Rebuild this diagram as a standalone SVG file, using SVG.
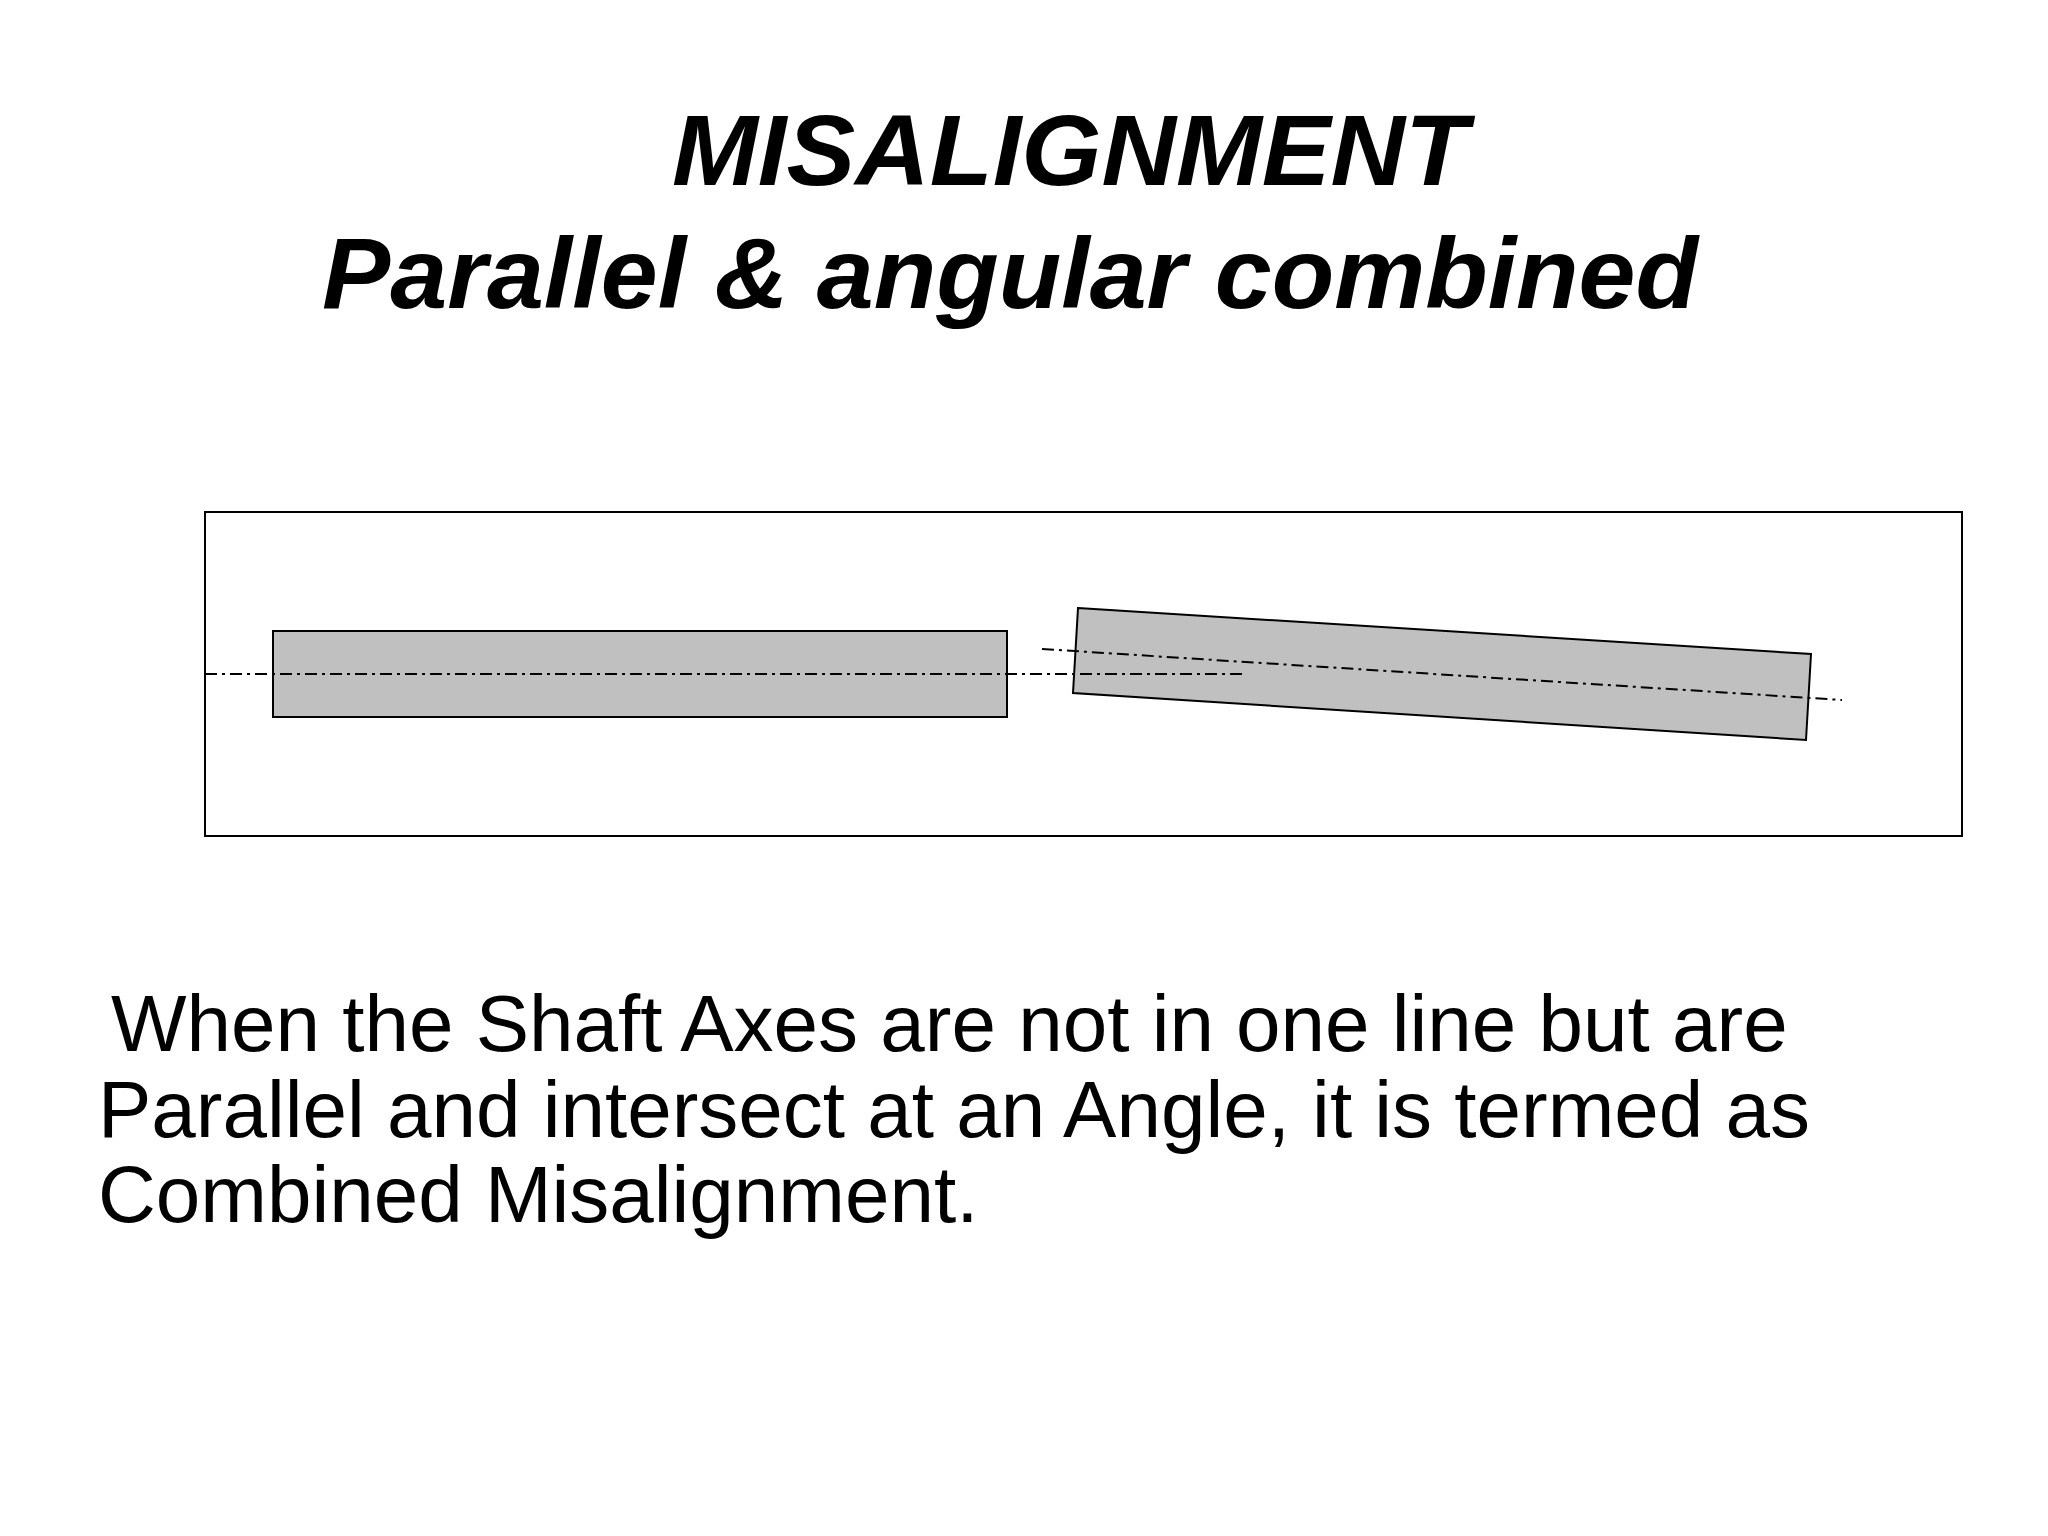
<svg xmlns="http://www.w3.org/2000/svg" width="2048" height="1536" viewBox="0 0 2048 1536">
<style>
.title{font-family:"Liberation Sans",Arial,sans-serif;font-weight:bold;font-style:italic;font-size:100px;fill:#000}
.body{font-family:"Liberation Sans",Arial,sans-serif;font-size:80px;fill:#000}
.shaft{fill:#c0c0c0;stroke:#000;stroke-width:2}
.axis{fill:none;stroke:#000;stroke-width:2;stroke-dasharray:12 5 3 5}
</style>
<rect width="2048" height="1536" fill="#fff"/>
<g id="title">
<text class="title" x="672" y="185" textLength="796" lengthAdjust="spacingAndGlyphs">MISALIGNMENT</text>
<text class="title" x="322" y="308" textLength="1376" lengthAdjust="spacingAndGlyphs">Parallel &amp; angular combined</text>
</g>
<g id="frame">
<rect x="205" y="512" width="1757" height="324" fill="none" stroke="#000" stroke-width="2"/>
</g>
<g id="shaft-left">
<rect class="shaft" x="273" y="631" width="734" height="86"/>
</g>
<g id="shaft-right">
<polygon class="shaft" points="1078,608 1811,654 1806,740 1073,693"/>
</g>
<g id="connectors">
<line class="axis" x1="205" y1="674" x2="1247" y2="674"/>
<line class="axis" x1="1042" y1="649" x2="1842" y2="700"/>
</g>
<g id="description">
<text class="body" x="111" y="1051">When the Shaft Axes are not in one line but are</text>
<text class="body" x="98" y="1137">Parallel and intersect at an Angle, it is termed as</text>
<text class="body" x="98" y="1222">Combined Misalignment.</text>
</g>
</svg>
